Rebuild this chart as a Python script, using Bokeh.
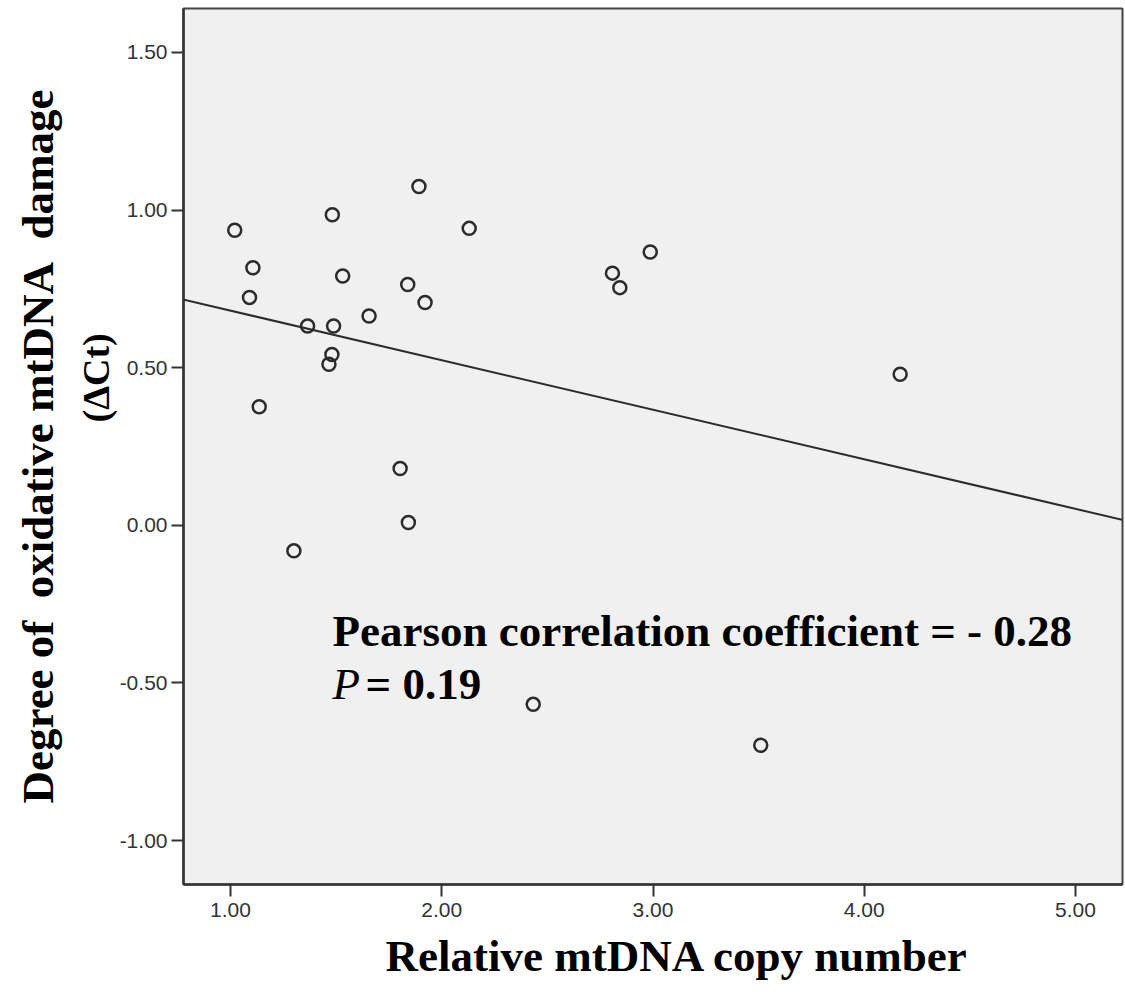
import numpy as np
from bokeh.plotting import figure
from bokeh.models import Label, Slope, FixedTicker, Range1d, Title
from bokeh.embed import file_html
from bokeh.resources import INLINE

# Data
copy_number = [1.02, 1.09, 1.106, 1.136, 1.30, 1.365, 1.466, 1.48, 1.482, 1.488,
               1.531, 1.656, 1.803, 1.839, 1.842, 1.892, 1.921, 2.13, 2.433, 2.808,
               2.843, 2.987, 3.51, 4.17]
damage = [0.936, 0.723, 0.817, 0.376, -0.081, 0.632, 0.511, 0.542, 0.985, 0.632,
          0.791, 0.664, 0.18, 0.764, 0.009, 1.075, 0.707, 0.942, -0.568, 0.80,
          0.754, 0.867, -0.698, 0.479]

x_ticks = [1, 2, 3, 4, 5]
x_tick_labels = ["1.00", "2.00", "3.00", "4.00", "5.00"]
y_ticks = [-1.0, -0.5, 0.0, 0.5, 1.0, 1.5]
y_tick_labels = ["-1.00", "-0.50", "0.00", "0.50", "1.00", "1.50"]

x_title = "Relative mtDNA copy number"
y_title_1 = "Degree of\u00a0 oxidative mtDNA\u00a0 damage"
y_title_2 = "(\u0394Ct)"
stat_line_1 = "Pearson correlation coefficient = - 0.28"
stat_p = "P"
stat_line_2 = "= 0.19"

serif = "Liberation Serif"
sans = "Liberation Sans"
ink = "#2b2b2b"

p = figure(width=1124, height=995,
           x_range=Range1d(0.7775, 5.2225), y_range=Range1d(-1.1395, 1.6395),
           output_backend="svg", toolbar_location=None,
           min_border_left=183, min_border_right=2, min_border_top=8,
           min_border_bottom=111,
           background_fill_color="#f0f0f0", border_fill_color="white")

p.grid.visible = False
p.outline_line_color = "#444444"
p.outline_line_width = 2

for ax in (p.xaxis[0], p.yaxis[0]):
    ax.axis_line_color = "#333333"
    ax.axis_line_width = 2.5
    ax.major_tick_line_color = "#333333"
    ax.major_tick_line_width = 2
    ax.major_tick_out = 12
    ax.major_tick_in = 0
    ax.minor_tick_line_color = None
    ax.major_label_text_font = sans
    ax.major_label_text_font_size = "21px"
    ax.major_label_text_color = "#333333"

p.xaxis.ticker = FixedTicker(ticks=x_ticks)
p.xaxis.major_label_overrides = dict(zip(x_ticks, x_tick_labels))
p.xaxis.major_label_standoff = 6
p.yaxis.ticker = FixedTicker(ticks=y_ticks)
p.yaxis.major_label_overrides = dict(zip(y_ticks, y_tick_labels))
p.yaxis.major_label_standoff = 4

# regression line from the data
slope, intercept = np.polyfit(copy_number, damage, 1)
p.add_layout(Slope(gradient=float(slope), y_intercept=float(intercept),
                   line_color=ink, line_width=2))

p.scatter(copy_number, damage, size=13, fill_color=None,
          line_color=ink, line_width=2.5)

# axis titles as Title panels (inner first)
t_y2 = Title(text=y_title_2, align="left", offset=462, standoff=0,
             text_font=serif, text_font_style="bold", text_font_size="38px",
             text_color="black")
t_y1 = Title(text=y_title_1, align="center", standoff=19,
             text_font=serif, text_font_style="bold", text_font_size="45px",
             text_color="black")
p.add_layout(t_y2, "left")
p.add_layout(t_y1, "left")

t_x = Title(text=x_title, align="left", offset=202, standoff=23,
            vertical_align="top",
            text_font=serif, text_font_style="bold", text_font_size="45px",
            text_color="black")
p.add_layout(t_x, "below")

# statistics text
p.add_layout(Label(x=149, y=254, x_units="screen", y_units="screen",
                   text=stat_line_1, text_font=serif, text_font_style="bold",
                   text_font_size="45px", text_color="black",
                   text_align="left", text_baseline="alphabetic"))
p.add_layout(Label(x=149, y=201, x_units="screen", y_units="screen",
                   text=stat_p, text_font=serif, text_font_style="italic",
                   text_font_size="45px", text_color="black",
                   text_align="left", text_baseline="alphabetic"))
p.add_layout(Label(x=182, y=201, x_units="screen", y_units="screen",
                   text=stat_line_2, text_font=serif, text_font_style="bold",
                   text_font_size="45px", text_color="black",
                   text_align="left", text_baseline="alphabetic"))

open("out.html", "w").write(file_html(p, INLINE))
